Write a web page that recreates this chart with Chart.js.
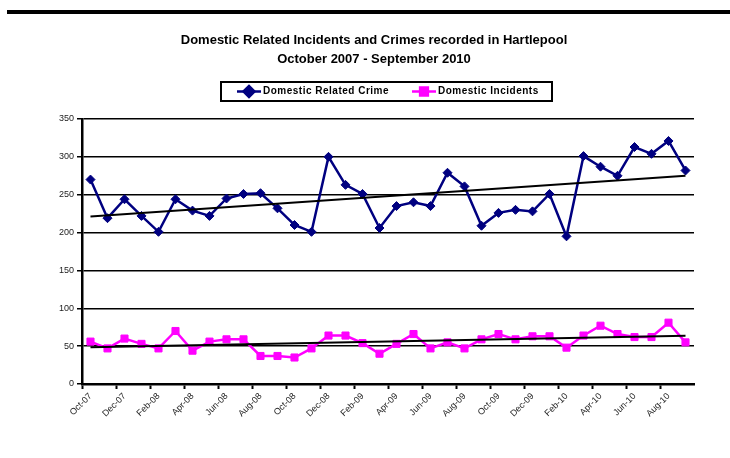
<!DOCTYPE html>
<html>
<head>
<meta charset="utf-8">
<script src="https://cdn.jsdelivr.net/npm/chart.js@4.4.1/dist/chart.umd.min.js"></script>
<style>
  html, body { margin: 0; padding: 0; background: #fff; }
</style>
</head>
<body>
<canvas id="chart-1" width="730" height="458"></canvas>
<script>
let titleLines = ['Domestic Related Incidents and Crimes recorded in Hartlepool', 'October 2007 - September 2010'];

let months = ['Oct-07', 'Nov-07', 'Dec-07', 'Jan-08', 'Feb-08', 'Mar-08', 'Apr-08', 'May-08', 'Jun-08',
    'Jul-08', 'Aug-08', 'Sep-08', 'Oct-08', 'Nov-08', 'Dec-08', 'Jan-09', 'Feb-09', 'Mar-09', 'Apr-09',
    'May-09', 'Jun-09', 'Jul-09', 'Aug-09', 'Sep-09', 'Oct-09', 'Nov-09', 'Dec-09', 'Jan-10', 'Feb-10',
    'Mar-10', 'Apr-10', 'May-10', 'Jun-10', 'Jul-10', 'Aug-10', 'Sep-10'];

let crimes = [270, 219, 244, 222, 201, 244, 229, 222, 245, 251, 252, 232, 210, 201, 300, 263, 251, 206,
    235, 240, 235, 279, 261, 209, 226, 230, 228, 251, 195, 301, 287, 275, 313, 304, 321, 282];

let incidents = [56, 47, 60, 53, 47, 70, 44, 56, 59, 59, 37, 37, 35, 47, 64, 64, 54, 40,
    53, 66, 47, 55, 47, 59, 66, 59, 63, 63, 48, 64, 77, 66, 62, 62, 81, 55];

let yMin = 0, yMax = 350, yStep = 50;

// least squares line, kept only at the two ends
function trend(values) {
    let n = values.length, sx = 0, sy = 0, sxy = 0, sxx = 0;
    values.forEach((v, i) => { sx += i; sy += v; sxy += i * v; sxx += i * i; });
    let b = (n * sxy - sx * sy) / (n * sxx - sx * sx);
    let a = (sy - b * sx) / n;
    return values.map((v, i) => (i === 0 || i === n - 1) ? a + b * i : null);
}

const legendItems = [
    { text: 'Domestic Related Crime', color: '#000080', style: 'rectRot', radius: 5.5, x: 237 },
    { text: 'Domestic Incidents', color: '#FF00FF', style: 'rect', radius: 5.5, x: 412 }
];

const decor = {
    id: 'decor',
    afterDraw(chart) {
        const ctx = chart.ctx;
        ctx.save();
        ctx.fillStyle = '#000';
        ctx.fillRect(7, 10, 723, 4);

        ctx.font = 'bold 13px "Liberation Sans", Arial, sans-serif';
        ctx.textAlign = 'center';
        ctx.textBaseline = 'middle';
        ctx.fillText(titleLines[0], 374, 40);
        ctx.fillText(titleLines[1], 374, 59);

        ctx.lineWidth = 2;
        ctx.strokeStyle = '#000';
        ctx.strokeRect(221, 82, 331, 19);

        ctx.textAlign = 'left';
        ctx.font = 'bold 10px "Liberation Sans", Arial, sans-serif';
        ctx.letterSpacing = '0.5px';
        legendItems.forEach(item => {
            const y = 91.5;
            ctx.strokeStyle = item.color;
            ctx.fillStyle = item.color;
            ctx.lineWidth = 2.5;
            ctx.beginPath();
            ctx.moveTo(item.x, y);
            ctx.lineTo(item.x + 24, y);
            ctx.stroke();
            Chart.helpers.drawPoint(ctx, { pointStyle: item.style, radius: item.radius, rotation: 0, borderWidth: 1 }, item.x + 12, y);
            ctx.fillStyle = '#000';
            ctx.fillText(item.text, item.x + 26, y);
        });
        ctx.restore();
    }
};

new Chart(document.getElementById('chart-1'), {
    type: 'line',
    data: {
        labels: months,
        datasets: [{
            label: 'Trend crime',
            data: trend(crimes),
            borderColor: '#000',
            borderWidth: 2,
            pointRadius: 0,
            spanGaps: true,
            order: 0
        }, {
            label: 'Trend incidents',
            data: trend(incidents),
            borderColor: '#000',
            borderWidth: 2,
            pointRadius: 0,
            spanGaps: true,
            order: 0
        }, {
            label: 'Domestic Related Crime',
            data: crimes,
            borderColor: '#000080',
            backgroundColor: '#000080',
            borderWidth: 2.5,
            pointStyle: 'rectRot',
            pointRadius: 4.5,
            pointBorderWidth: 1,
            order: 1
        }, {
            label: 'Domestic Incidents',
            data: incidents,
            borderColor: '#FF00FF',
            backgroundColor: '#FF00FF',
            borderWidth: 2.5,
            pointStyle: 'rect',
            pointRadius: 5,
            pointBorderWidth: 1,
            order: 1
        }]
    },
    options: {
        responsive: false,
        animation: false,
        layout: { padding: { top: 119, right: 36, left: 0, bottom: 0 } },
        plugins: {
            legend: { display: false },
            tooltip: { enabled: false }
        },
        scales: {
            x: {
                offset: true,
                afterFit: scale => { scale.height = 74; },
                grid: {
                    offset: true,
                    drawOnChartArea: false,
                    tickLength: 5,
                    tickWidth: 2,
                    tickColor: ctx => ctx.index % 2 === 0 ? '#000' : 'rgba(0,0,0,0)'
                },
                border: { color: '#000', width: 2.5 },
                ticks: {
                    autoSkip: false,
                    minRotation: 45,
                    maxRotation: 45,
                    padding: 2,
                    color: '#222',
                    font: { family: '"Liberation Sans", Arial, sans-serif', size: 9 },
                    callback: (v, i) => i % 2 === 0 ? months[i] : ''
                }
            },
            y: {
                min: yMin,
                max: yMax,
                afterFit: scale => { scale.width = 82; },
                grid: { color: '#000', lineWidth: 1.5, tickLength: 5, tickColor: '#000' },
                border: { color: '#000', width: 2.5 },
                ticks: {
                    stepSize: yStep,
                    padding: 3,
                    color: '#222',
                    font: { family: '"Liberation Sans", Arial, sans-serif', size: 9 }
                }
            }
        }
    },
    plugins: [decor]
});
</script>
</body>
</html>
